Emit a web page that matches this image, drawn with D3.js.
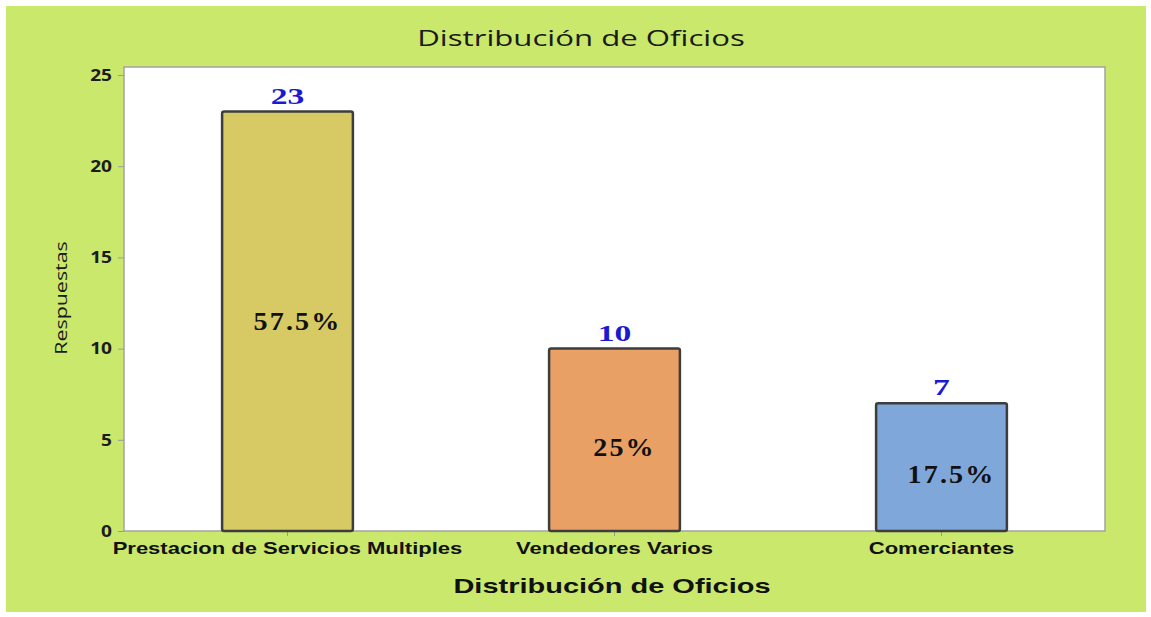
<!DOCTYPE html>
<html>
<head>
<meta charset="utf-8">
<script src="https://cdn.jsdelivr.net/npm/d3@7"></script>
<style>
  body { margin: 0; background: #fff; }
</style>
</head>
<body>
<div id="chart"></div>
<script>
let width = 1151,
    height = 617;

// data
let categories = ["Prestacion de Servicios Multiples", "Vendedores Varios", "Comerciantes"];
let counts = [23, 10, 7];
let percents = ["57.5%", "25%", "17.5%"];
let barColors = ["#d7c964", "#e9a064", "#7fa7d9"];
let yTicks = [0, 5, 10, 15, 20, 25];

let plot = {left: 124, right: 1105, top: 67, bottom: 531};

let svg = d3.select("#chart")
    .append("svg")
    .attr("width", width)
    .attr("height", height);

// the source picture has wide, stretched lettering, so texts get a horizontal scale
function wideText(sel, x, y, sx) {
    return sel.attr("transform", "translate(" + x + "," + y + ") scale(" + sx + ",1)");
}

// green backdrop
svg.append("rect")
    .attr("x", 6).attr("y", 6)
    .attr("width", 1140).attr("height", 606)
    .attr("fill", "#c9e86c");

// plot area
svg.append("rect")
    .attr("x", plot.left).attr("y", plot.top)
    .attr("width", plot.right - plot.left)
    .attr("height", plot.bottom - plot.top)
    .attr("fill", "#fff")
    .attr("stroke", "#a3a3a3")
    .attr("stroke-width", 1.5);

let x = d3.scaleBand()
    .domain(categories)
    .range([plot.left, plot.right])
    .paddingInner(0.6)
    .paddingOuter(0.3);

let y = d3.scaleLinear()
    .domain([0, 25.44])
    .range([plot.bottom, plot.top]);

// y axis
let ySx = 1.16;
let yAxis = svg.append("g")
    .attr("transform", "translate(" + plot.left + ",0)")
    .call(d3.axisLeft(y).tickValues(yTicks).tickSize(6));
yAxis.select(".domain").remove();
yAxis.selectAll(".tick line").attr("stroke", "#9a9a9a");
yAxis.selectAll(".tick text")
    .attr("x", -12 / ySx)
    .attr("transform", "scale(" + ySx + ",1)")
    .attr("font-family", "'Open Sans', sans-serif")
    .attr("font-weight", "bold")
    .attr("font-size", 16.5)
    .attr("fill", "#1c1c1c");

// x axis
let xAxis = svg.append("g")
    .attr("transform", "translate(0," + plot.bottom + ")")
    .call(d3.axisBottom(x).tickSize(5).tickPadding(6));
xAxis.select(".domain").remove();
xAxis.selectAll(".tick line").attr("stroke", "#9a9a9a");
xAxis.selectAll(".tick text")
    .attr("transform", "scale(1.35,1)")
    .attr("font-family", "'Liberation Sans', Arial, sans-serif")
    .attr("font-weight", "bold")
    .attr("font-size", 16.3)
    .attr("fill", "#111");

// bars
svg.selectAll(".bar")
    .data(categories)
    .enter()
    .append("rect")
    .attr("class", "bar")
    .attr("x", d => x(d))
    .attr("y", (d, i) => y(counts[i]))
    .attr("width", x.bandwidth())
    .attr("height", (d, i) => y(0) - y(counts[i]))
    .attr("rx", 2)
    .attr("fill", (d, i) => barColors[i])
    .attr("stroke", "#3d3d3d")
    .attr("stroke-width", 2.5);

// counts above bars
svg.selectAll(".count")
    .data(categories)
    .enter()
    .append("text")
    .attr("class", "count")
    .each(function(d, i) {
        wideText(d3.select(this), x(d) + x.bandwidth() / 2, y(counts[i]) - 8, 1.4);
    })
    .attr("text-anchor", "middle")
    .attr("font-family", "'Liberation Serif', 'Times New Roman', serif")
    .attr("font-weight", "bold")
    .attr("font-size", 24)
    .attr("fill", "#1a1ad0")
    .text((d, i) => counts[i]);

// percentages inside bars
svg.selectAll(".pct")
    .data(categories)
    .enter()
    .append("text")
    .attr("class", "pct")
    .each(function(d, i) {
        let py = y(counts[i] / 2) + 9 + (counts[i] < 15 ? 7 : 0);
        wideText(d3.select(this), x(d) + x.bandwidth() / 2 + 10, py, 1.08);
    })
    .attr("text-anchor", "middle")
    .attr("font-family", "'Liberation Serif', 'Times New Roman', serif")
    .attr("font-weight", "bold")
    .attr("font-size", 26)
    .attr("letter-spacing", 2)
    .attr("fill", "#111")
    .text((d, i) => percents[i]);

// titles
wideText(svg.append("text"), 581, 46, 1.45)
    .attr("text-anchor", "middle")
    .attr("font-family", "'Open Sans', sans-serif")
    .attr("font-size", 21.5)
    .attr("fill", "#1a1a1a")
    .text("Distribución de Oficios");

wideText(svg.append("text"), 612, 593, 1.38)
    .attr("text-anchor", "middle")
    .attr("font-family", "'Liberation Sans', Arial, sans-serif")
    .attr("font-weight", "bold")
    .attr("font-size", 21)
    .attr("fill", "#111")
    .text("Distribución de Oficios");

svg.append("text")
    .attr("transform", "translate(67,298) rotate(-90) scale(1.26,1)")
    .attr("text-anchor", "middle")
    .attr("font-family", "'Open Sans', sans-serif")
    .attr("font-size", 17)
    .attr("fill", "#1a1a1a")
    .text("Respuestas");
</script>
</body>
</html>
